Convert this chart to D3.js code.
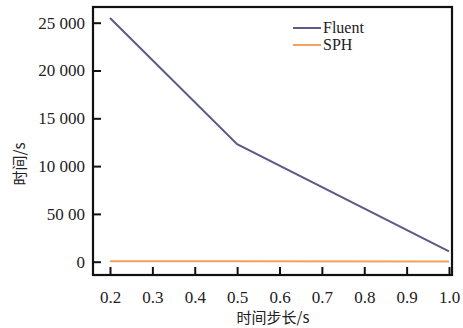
<!DOCTYPE html>
<html>
<head>
<meta charset="utf-8">
<script src="https://cdn.jsdelivr.net/npm/d3@7"></script>
<style>
  body { margin: 0; background: #fff; }
  text { font-family: "Liberation Serif", "DejaVu Serif", serif; }
  .cjk { font-family: "Noto Sans CJK SC", sans-serif; }
</style>
</head>
<body>
<svg id="chart" width="463" height="328"></svg>
<script>
const steps = [0.2, 0.5, 1.0];
const fluent = [25500, 12300, 1080];
const sph = [60, 40, 30];
const xTicks = [0.2, 0.3, 0.4, 0.5, 0.6, 0.7, 0.8, 0.9, 1.0];
const yTicks = [0, 5000, 10000, 15000, 20000, 25000];
const yTickLabels = ['0', '50 00', '10 000', '15 000', '20 000', '25 000'];
const seriesNames = ['Fluent', 'SPH'];
const seriesColors = ['#5c5a88', '#f5a05c'];

const svg = d3.select('#chart');
const frame = { left: 93, right: 452, top: 7, bottom: 275 };

const x = d3.scaleLinear().domain([0.2, 1.0]).range([110, 449]);
const y = d3.scaleLinear().domain([0, 25000]).range([261.7, 22.7]);

// frame
svg.append('rect')
  .attr('x', frame.left).attr('y', frame.top)
  .attr('width', frame.right - frame.left).attr('height', frame.bottom - frame.top)
  .attr('fill', 'none').attr('stroke', '#111').attr('stroke-width', 2.2);

// x axis (ticks pointing inward)
const xAxis = svg.append('g').attr('transform', `translate(0,${frame.bottom})`)
  .call(d3.axisBottom(x).tickValues(xTicks).tickFormat(d3.format('.1f'))
    .tickSizeInner(-8).tickSizeOuter(0).tickPadding(16));
xAxis.select('.domain').remove();
xAxis.selectAll('line').attr('stroke', '#111').attr('stroke-width', 2);
xAxis.selectAll('text').attr('font-size', 17).attr('fill', '#222')
  .attr('font-family', '"Liberation Serif", serif');

// y axis
const yAxis = svg.append('g').attr('transform', `translate(${frame.left},0)`)
  .call(d3.axisLeft(y).tickValues(yTicks).tickFormat((d, i) => yTickLabels[i])
    .tickSizeInner(-8).tickSizeOuter(0).tickPadding(8));
yAxis.select('.domain').remove();
yAxis.selectAll('line').attr('stroke', '#111').attr('stroke-width', 2);
yAxis.selectAll('text').attr('font-size', 17).attr('fill', '#222')
  .attr('font-family', '"Liberation Serif", serif');

// lines
const line = d3.line().x((d, i) => x(steps[i])).y(d => y(d));
[fluent, sph].forEach((s, k) => {
  svg.append('path').datum(s)
    .attr('d', line)
    .attr('fill', 'none')
    .attr('stroke', seriesColors[k])
    .attr('stroke-width', 2);
});

// legend
seriesNames.forEach((name, k) => {
  const ly = 28 + k * 17;
  svg.append('line')
    .attr('x1', 293).attr('x2', 321).attr('y1', ly).attr('y2', ly)
    .attr('stroke', seriesColors[k]).attr('stroke-width', 2);
  svg.append('text')
    .attr('x', 323).attr('y', ly + 5)
    .attr('font-size', 16).attr('fill', '#222')
    .text(name);
});

// axis titles
svg.append('text').attr('class', 'cjk')
  .attr('x', 273).attr('y', 323)
  .attr('text-anchor', 'middle')
  .attr('font-size', 15).attr('fill', '#222')
  .text('时间步长/s');

svg.append('text').attr('class', 'cjk')
  .attr('transform', 'translate(25,164) rotate(-90)')
  .attr('text-anchor', 'middle')
  .attr('font-size', 15).attr('fill', '#222')
  .text('时间/s');
</script>
</body>
</html>
